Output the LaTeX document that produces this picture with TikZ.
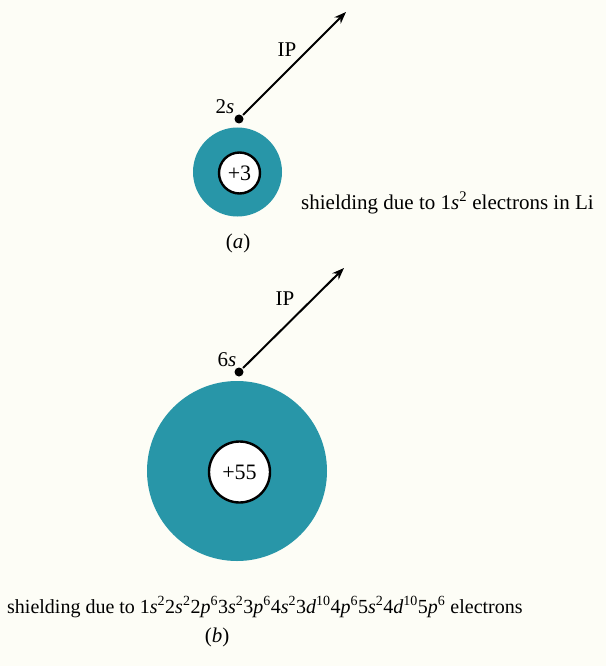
\documentclass[tikz,border=0pt]{standalone}
\usepackage{fontspec}
\setmainfont{Liberation Serif}
\usetikzlibrary{arrows.meta}
\definecolor{teal}{RGB}{40,150,168}
\definecolor{paper}{RGB}{253,253,246}
\tikzset{
  shell/.style={circle, fill=teal, inner sep=0pt},
  core/.style={circle, draw=black, line width=2.4pt, fill=white, inner sep=0pt, font=\fontsize{22}{26}\selectfont},
  elec/.style={circle, fill=black, inner sep=0pt, minimum size=9pt},
  lbl/.style={font=\fontsize{21}{25}\selectfont, inner sep=0pt},
  iparrow/.style={line width=2pt, shorten <=1pt, -{Stealth[length=12pt,width=9pt]}}
}
\begin{document}
\begin{tikzpicture}[x=1pt,y=-1pt]
\useasboundingbox[fill=paper] (0,0) rectangle (606,666);
% (a)
\node[shell, minimum size=89pt] (shA) at (237.5,172) {};
\node[core, minimum size=41pt] (coreA) at (239.5,173) {+3};
\node[elec] (dotA) at (239,119) {};
\coordinate (tipA) at (346,12);
\draw[iparrow] (dotA) -- (tipA);
\node[lbl] (ipA) at (287,50) {IP};
\node[lbl] (sA) at (225,107) {2\textit{s}};
\node[lbl, anchor=west] (shieldA) at (301,203) {shielding due to 1\textit{s}\textsuperscript{2} electrons in Li};
\node[lbl] (capA) at (238,243) {(\textit{a})};
% (b)
\node[shell, minimum size=180pt] (shB) at (237,471) {};
\node[core, minimum size=61pt] (coreB) at (239.5,472) {+55};
\node[elec] (dotB) at (239,372) {};
\coordinate (tipB) at (344,268);
\draw[iparrow] (dotB) -- (tipB);
\node[lbl] (ipB) at (285,299) {IP};
\node[lbl] (sB) at (227,360) {6\textit{s}};
\node[lbl, anchor=west, font=\fontsize{20}{24}\selectfont] (shieldB) at (7,607) {shielding due to 1\textit{s}\textsuperscript{2}2\textit{s}\textsuperscript{2}2\textit{p}\textsuperscript{6}3\textit{s}\textsuperscript{2}3\textit{p}\textsuperscript{6}4\textit{s}\textsuperscript{2}3\textit{d}\textsuperscript{10}4\textit{p}\textsuperscript{6}5\textit{s}\textsuperscript{2}4\textit{d}\textsuperscript{10}5\textit{p}\textsuperscript{6} electrons};
\node[lbl] (capB) at (217,637) {(\textit{b})};
\end{tikzpicture}
\end{document}
